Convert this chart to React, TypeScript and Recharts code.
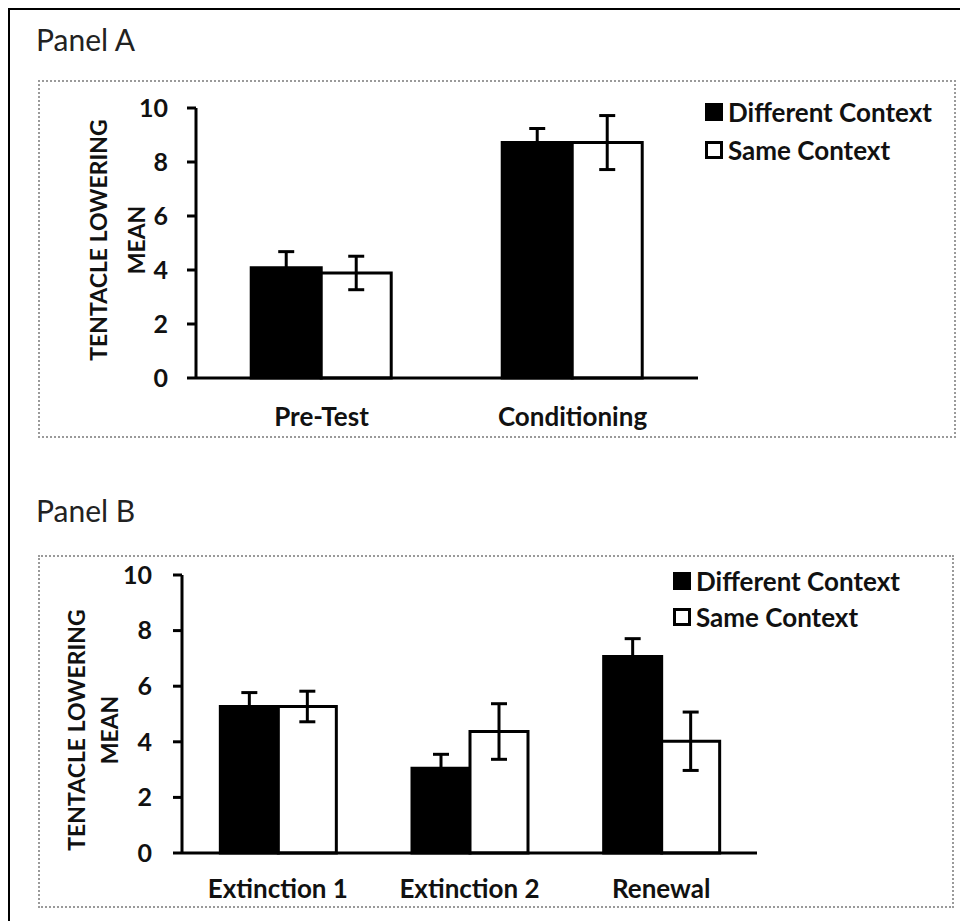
import { BarChart, Bar, XAxis, YAxis, ErrorBar, Legend } from 'recharts'

const seriesNames = ['Different Context', 'Same Context']
const yTicks = [0, 2, 4, 6, 8, 10]
const yTitle = ['TENTACLE LOWERING', 'MEAN']

const panelACategories = ['Pre-Test', 'Conditioning']
const panelADiff = [4.08, 8.72]
const panelADiffErr = [0.6, 0.52]
const panelASame = [3.89, 8.72]
const panelASameErr = [0.62, 1.0]

const panelBCategories = ['Extinction 1', 'Extinction 2', 'Renewal']
const panelBDiff = [5.27, 3.05, 7.07]
const panelBDiffErr = [0.5, 0.5, 0.64]
const panelBSame = [5.27, 4.37, 4.02]
const panelBSameErr = [0.55, 1.0, 1.05]

const FONT = 'Lato, "Open Sans", sans-serif'

function buildRows(cats: string[], diff: number[], diffErr: number[], same: number[], sameErr: number[]) {
  return cats.map((name, i) => ({
    name,
    diff: diff[i],
    diffErr: diffErr[i],
    same: same[i],
    sameErr: sameErr[i],
  }))
}

function LegendBox({ payload, rowHeight }: any) {
  return (
    <div style={{ fontFamily: FONT }}>
      {(payload || []).map((p: any, i: number) => (
        <div key={i} style={{ display: 'flex', alignItems: 'center', height: rowHeight }}>
          <span
            style={{
              display: 'inline-block',
              width: 18,
              height: 18,
              boxSizing: 'border-box',
              background: i === 0 ? '#000' : '#fff',
              border: '3px solid #000',
              marginRight: 5,
            }}
          />
          <span style={{ fontSize: 26, fontWeight: 700, color: '#111', lineHeight: 1 }}>{p.value}</span>
        </div>
      ))}
    </div>
  )
}

interface PanelProps {
  title: string
  titleTop: number
  box: { left: number; top: number; width: number; height: number }
  margin: { top: number; right: number; bottom: number; left: number }
  yAxisWidth: number
  rows: any[]
  gap: string
  tickMargin: number
  yTickMargin: number
  legendPos: { left: number; top: number; row: number }
  titleOffsets: { a: number; b: number; dy: number }
}

function Panel(p: PanelProps) {
  const n = p.rows.length
  const edgeTicks = Array.from({ length: n + 1 }, (_, i) => i)
  const renderYTitle = (props: any) => {
    const vb = props.viewBox || {}
    const axisX = vb.x + vb.width
    const cy = vb.y + vb.height / 2 + p.titleOffsets.dy
    return (
      <g>
        {yTitle.map((t, i) => {
          const x = axisX + (i === 0 ? p.titleOffsets.a : p.titleOffsets.b)
          return (
            <text
              key={t}
              x={x}
              y={cy}
              textAnchor="middle"
              dominantBaseline="central"
              transform={`rotate(-90 ${x} ${cy})`}
              style={{ fontFamily: FONT, fontSize: 23, fontWeight: 700, fill: '#111' }}
            >
              {t}
            </text>
          )
        })}
      </g>
    )
  }
  return (
    <>
      <div
        style={{
          position: 'absolute',
          left: p.box.left - 2,
          top: p.titleTop,
          fontFamily: FONT,
          fontSize: 30,
          lineHeight: '30px',
          color: '#222',
        }}
      >
        {p.title}
      </div>
      <div
        style={{
          position: 'absolute',
          left: p.box.left,
          top: p.box.top,
          width: p.box.width,
          height: p.box.height,
          boxSizing: 'border-box',
          border: '2px dotted #9a9a9a',
        }}
      />
      <div style={{ position: 'absolute', left: p.box.left, top: p.box.top }}>
        <BarChart
          width={p.box.width}
          height={p.box.height}
          data={p.rows}
          margin={p.margin}
          barGap={0}
          barCategoryGap={p.gap}
          style={{ fontFamily: FONT }}
        >
          <XAxis
            dataKey="name"
            height={1}
            axisLine={{ stroke: '#000', strokeWidth: 3 }}
            tickLine={false}
            tickSize={0}
            tickMargin={p.tickMargin}
            interval={0}
            tick={{ fill: '#111', fontSize: 26, fontWeight: 700, fontFamily: FONT }}
          />
          <XAxis
            xAxisId="edge"
            type="number"
            domain={[0, n]}
            ticks={edgeTicks}
            allowDataOverflow
            height={1}
            axisLine={false}
            tick={false}
            tickSize={9}
            tickLine={{ stroke: '#000', strokeWidth: 3 }}
          />
          <YAxis
            width={p.yAxisWidth}
            domain={[0, 10]}
            ticks={yTicks}
            interval={0}
            axisLine={{ stroke: '#000', strokeWidth: 3 }}
            tickLine={{ stroke: '#000', strokeWidth: 3 }}
            tickSize={9}
            tickMargin={p.yTickMargin}
            tick={{ fill: '#111', fontSize: 25, fontWeight: 700, fontFamily: FONT }}
            label={{ content: renderYTitle }}
          />
          <Legend
            layout="vertical"
            verticalAlign="middle"
            align="center"
            wrapperStyle={{ left: p.legendPos.left, top: p.legendPos.top, width: 260 }}
            content={(props: any) => <LegendBox {...props} rowHeight={p.legendPos.row} />}
          />
          <Bar dataKey="diff" name={seriesNames[0]} fill="#000" stroke="#000" strokeWidth={3} isAnimationActive={false}>
            <ErrorBar dataKey="diffErr" width={8} stroke="#000" strokeWidth={3} isAnimationActive={false} />
          </Bar>
          <Bar dataKey="same" name={seriesNames[1]} fill="#fff" stroke="#000" strokeWidth={3} isAnimationActive={false}>
            <ErrorBar dataKey="sameErr" width={8} stroke="#000" strokeWidth={3} isAnimationActive={false} />
          </Bar>
        </BarChart>
      </div>
    </>
  )
}

export default function App() {
  const rowsA = buildRows(panelACategories, panelADiff, panelADiffErr, panelASame, panelASameErr)
  const rowsB = buildRows(panelBCategories, panelBDiff, panelBDiffErr, panelBSame, panelBSameErr)
  // page coords minus 10 (body margin + frame border)
  return (
    <div
      style={{
        position: 'relative',
        width: 960,
        height: 913,
        boxSizing: 'border-box',
        borderTop: '2px solid #000',
        borderLeft: '2px solid #000',
        background: '#fff',
      }}
    >
      <Panel
        title="Panel A"
        titleTop={14}
        box={{ left: 28, top: 70, width: 918, height: 358 }}
        margin={{ top: 28, right: 258, bottom: 58, left: 38 }}
        yAxisWidth={120}
        rows={rowsA}
        gap="22%"
        tickMargin={30}
        yTickMargin={19}
        legendPos={{ left: 667, top: 13, row: 38 }}
        titleOffsets={{ a: -98, b: -60, dy: -3 }}
      />
      <Panel
        title="Panel B"
        titleTop={485}
        box={{ left: 28, top: 545, width: 916, height: 353 }}
        margin={{ top: 20, right: 197, bottom: 53, left: 24 }}
        yAxisWidth={120}
        rows={rowsB}
        gap="20%"
        tickMargin={27}
        yTickMargin={21}
        legendPos={{ left: 635, top: 8, row: 36 }}
        titleOffsets={{ a: -106, b: -73, dy: 16 }}
      />
    </div>
  )
}
